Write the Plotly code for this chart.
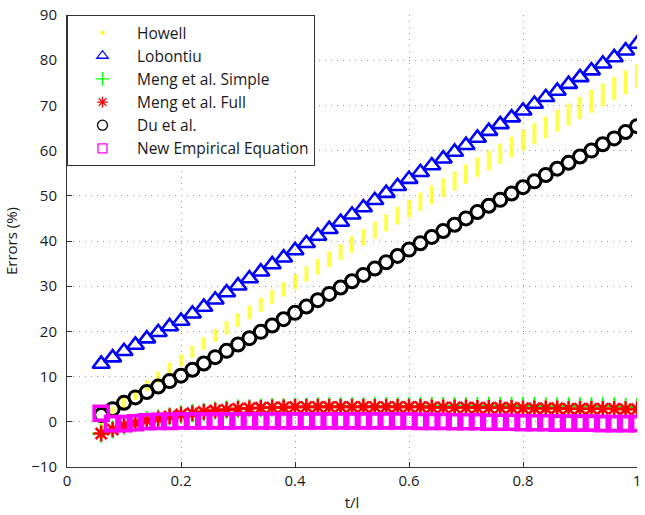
import plotly.graph_objects as go

x_vals = [0.06, 0.08, 0.10, 0.12, 0.14, 0.16, 0.18, 0.20, 0.22, 0.24,
          0.26, 0.28, 0.30, 0.32, 0.34, 0.36, 0.38, 0.40, 0.42, 0.44,
          0.46, 0.48, 0.50, 0.52, 0.54, 0.56, 0.58, 0.60, 0.62, 0.64,
          0.66, 0.68, 0.70, 0.72, 0.74, 0.76, 0.78, 0.80, 0.82, 0.84,
          0.86, 0.88, 0.90, 0.92, 0.94, 0.96, 0.98, 1.00]

howell = [-0.5, 2.2, 4.2, 6.0, 8.0, 9.9, 11.8, 13.6, 15.5, 17.3,
          19.1, 20.8, 22.5, 24.2, 25.9, 27.6, 29.3, 31.0, 32.7, 34.3,
          36.0, 37.6, 39.2, 40.8, 42.4, 44.0, 45.6, 47.2, 48.7, 50.2,
          51.8, 53.3, 54.8, 56.3, 57.8, 59.3, 60.8, 62.3, 63.7, 65.1,
          66.6, 68.0, 69.4, 70.9, 72.3, 73.7, 75.1, 76.5]

lobontiu = [12.8, 14.2, 15.6, 17.0, 18.4, 19.8, 21.1, 22.3, 23.9, 25.4,
            27.0, 28.6, 30.1, 31.7, 33.2, 34.8, 36.3, 37.9, 39.5, 41.1,
            42.6, 44.2, 45.8, 47.4, 49.0, 50.6, 52.1, 53.7, 55.2, 56.7,
            58.2, 59.7, 61.2, 62.8, 64.3, 65.8, 67.3, 68.8, 70.3, 71.8,
            73.2, 74.7, 76.2, 77.7, 79.2, 80.6, 82.1, 83.6]

meng_simple = [-2.6, -1.7, -0.8, -0.3, 0.3, 0.7, 1.2, 1.6, 1.9, 2.2,
               2.5, 2.7, 2.9, 3.0, 3.1, 3.2, 3.2, 3.3, 3.3, 3.4,
               3.4, 3.4, 3.4, 3.4, 3.5, 3.5, 3.5, 3.5, 3.5, 3.5,
               3.5, 3.5, 3.5, 3.5, 3.5, 3.5, 3.5, 3.5, 3.5, 3.4,
               3.4, 3.4, 3.4, 3.4, 3.4, 3.4, 3.3, 3.3]

meng_full = [-2.6, -1.7, -0.8, -0.3, 0.3, 0.7, 1.2, 1.6, 1.9, 2.2,
             2.5, 2.7, 2.9, 3.0, 3.1, 3.2, 3.2, 3.3, 3.3, 3.3,
             3.3, 3.3, 3.3, 3.3, 3.3, 3.3, 3.3, 3.3, 3.3, 3.2,
             3.2, 3.2, 3.2, 3.1, 3.1, 3.1, 3.1, 3.0, 3.0, 3.0,
             3.0, 2.9, 2.9, 2.9, 2.9, 2.9, 2.8, 2.8]

du = [1.5, 2.8, 4.2, 5.4, 6.6, 7.8, 9.0, 10.2, 11.5, 12.9,
      14.3, 15.7, 17.1, 18.5, 19.9, 21.3, 22.7, 24.1, 25.5, 26.9,
      28.3, 29.7, 31.1, 32.5, 33.9, 35.3, 36.7, 38.1, 39.5, 40.9,
      42.2, 43.6, 45.0, 46.4, 47.8, 49.1, 50.5, 51.9, 53.2, 54.6,
      56.0, 57.3, 58.7, 60.0, 61.4, 62.7, 64.1, 65.4]

new_empirical = [1.9, -0.4, -0.4, -0.2, 0.0, 0.1, 0.1, 0.2, 0.2, 0.2,
                 0.2, 0.2, 0.2, 0.2, 0.2, 0.2, 0.2, 0.2, 0.2, 0.2,
                 0.2, 0.2, 0.2, 0.2, 0.2, 0.2, 0.2, 0.2, 0.1, 0.1,
                 0.1, 0.0, 0.0, 0.0, -0.1, -0.1, -0.1, -0.2, -0.2, -0.2,
                 -0.3, -0.3, -0.3, -0.3, -0.4, -0.4, -0.4, -0.4]

names = ["Howell", "Lobontiu", "Meng et al. Simple", "Meng et al. Full",
         "Du et al.", "New Empirical Equation"]

x_ticks = [0, 0.2, 0.4, 0.6, 0.8, 1]
x_tick_text = ["0", "0.2", "0.4", "0.6", "0.8", "1"]
y_ticks = [-10, 0, 10, 20, 30, 40, 50, 60, 70, 80, 90]

FONT = "Open Sans"

# style: the yellow dot marks look taller further right in the reference
n = len(x_vals)
howell_sizes = [7 + 10 * i / (n - 1) for i in range(n)]

series = [howell, lobontiu, meng_simple, meng_full, du, new_empirical]
plot_markers = [
    dict(symbol="line-ns", size=howell_sizes, color="#ffff00", line=dict(color="#ffff00", width=4)),
    dict(symbol="triangle-up-open", size=15, color="#0000ff", line=dict(color="#0000ff", width=2.6)),
    dict(symbol="cross-thin-open", size=13, color="#00ff00", line=dict(color="#00ff00", width=1.8)),
    dict(symbol="asterisk-open", size=13, color="#ff0000", line=dict(color="#ff0000", width=2.6)),
    dict(symbol="circle-open", size=13, color="#000000", line=dict(color="#000000", width=3)),
    dict(symbol="square-open", size=14, color="#ff00ff", line=dict(color="#ff00ff", width=3.6)),
]
legend_markers = [
    dict(symbol="circle", size=4, color="#ffff00", line=dict(width=0)),
    dict(symbol="triangle-up-open", size=10, color="#0000ff", line=dict(color="#0000ff", width=1.3)),
    dict(symbol="cross-thin-open", size=10, color="#00ff00", line=dict(color="#00ff00", width=1.3)),
    dict(symbol="asterisk-open", size=9, color="#ff0000", line=dict(color="#ff0000", width=1.3)),
    dict(symbol="circle-open", size=10, color="#000000", line=dict(color="#000000", width=1.3)),
    dict(symbol="square-open", size=9, color="#ff00ff", line=dict(color="#ff00ff", width=1.3)),
]

fig = go.Figure()
for name, ys, mk in zip(names, series, plot_markers):
    fig.add_trace(go.Scatter(x=x_vals, y=ys, mode="markers", name=name,
                             marker=mk, showlegend=False, hoverinfo="x+y"))
for name, mk in zip(names, legend_markers):
    fig.add_trace(go.Scatter(x=[None], y=[None], mode="markers", name=name,
                             marker=mk, showlegend=True))

grid_dash = "1px,5px"
fig.update_layout(
    width=645, height=515,
    margin=dict(l=67, r=4, t=14, b=48),
    paper_bgcolor="white", plot_bgcolor="white",
    font=dict(family=FONT, size=15, color="#1a1a1a"),
    showlegend=True,
    legend=dict(x=0, y=1, xanchor="left", yanchor="top",
                bgcolor="white", bordercolor="#333333", borderwidth=1,
                font=dict(family=FONT, size=15.5, color="#1a1a1a"),
                itemwidth=59, tracegroupgap=0),
    xaxis=dict(range=[0, 1], tickvals=x_ticks, ticktext=x_tick_text,
               showgrid=True, gridcolor="#9a9a9a", griddash=grid_dash, gridwidth=1,
               showline=True, linecolor="#333333", linewidth=1,
               ticks="inside", ticklen=5, tickcolor="#333333",
               ticklabeloverflow="allow",
               zeroline=False, title=dict(text="t/l", standoff=8,
                                          font=dict(family=FONT, size=15))),
    yaxis=dict(range=[-10, 90], tickvals=y_ticks,
               showgrid=True, gridcolor="#9a9a9a", griddash=grid_dash, gridwidth=1,
               showline=True, linecolor="#333333", linewidth=1,
               ticks="inside", ticklen=5, tickcolor="#333333",
               zeroline=False, ticklabelstandoff=6,
               title=dict(text="Errors (%)", standoff=10,
                          font=dict(family=FONT, size=15))),
)

fig.write_html("out.html")
